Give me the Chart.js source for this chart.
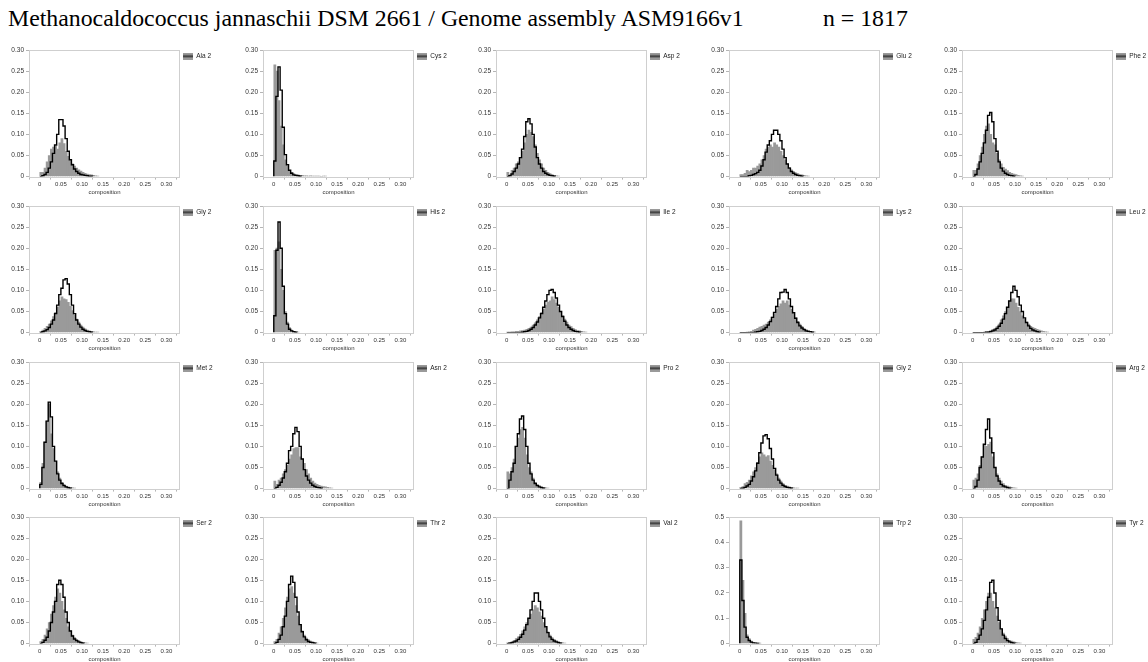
<!DOCTYPE html>
<html><head><meta charset="utf-8">
<script src="https://cdn.jsdelivr.net/npm/chart.js@4/dist/chart.umd.min.js"></script>
<style>
html,body{margin:0;padding:0;background:#fff;width:1148px;height:662px;overflow:hidden;position:relative;}
.ttl{position:absolute;top:6px;font-family:"Liberation Serif","Times New Roman",serif;font-size:23.8px;line-height:24px;white-space:nowrap;color:#000;}
canvas.cell{position:absolute;}
</style></head><body>
<div class="ttl" style="left:8px">Methanocaldococcus jannaschii DSM 2661 / Genome assembly ASM9166v1</div>
<div class="ttl" style="left:823px">n = 1817</div>
<script>
// ---------- data (bin width 0.005, first bin starts at 0) ----------
const BIN_WIDTH = 0.005;
const panelLabels = ['Ala 2','Cys 2','Asp 2','Glu 2','Phe 2','Gly 2','His 2','Ile 2','Lys 2','Leu 2','Met 2','Asn 2','Pro 2','Gly 2','Arg 2','Ser 2','Thr 2','Val 2','Trp 2','Tyr 2'];
const xTickValues = [0,0.05,0.10,0.15,0.20,0.25,0.30];
const xTickLabels = ['0','0.05','0.10','0.15','0.20','0.25','0.30'];
const yTickValuesStd = [0,0.05,0.10,0.15,0.20,0.25,0.30];
const yTickLabelsStd = ['0','0.05','0.10','0.15','0.20','0.25','0.30'];
const yTickValuesTrp = [0,0.1,0.2,0.3,0.4,0.5];
const yTickLabelsTrp = ['0','0.1','0.2','0.3','0.4','0.5'];

const ala2Hist = [0.01,0.01,0.02,0.035,0.05,0.065,0.07,0.072,0.065,0.08,0.09,0.078,0.06,0.048,0.038,0.03,0.025,0.02,0.016,0.013,0.01,0.008,0.006,0.005,0.004,0.003,0.002,0.001];
const ala2Line = [0,0.002,0.005,0.01,0.02,0.035,0.055,0.075,0.1,0.135,0.135,0.12,0.09,0.06,0.04,0.028,0.018,0.012,0.008,0.005,0.004,0.003,0.002,0.001,0.001];
const cys2Hist = [0.265,0.25,0.18,0.12,0.075,0.04,0.025,0.015,0.01,0.007,0.005,0.004,0.003,0.003,0.002,0.002,0.001,0.002,0.001,0.001,0.001,0.001,0,0.001,0.001];
const cys2Line = [0.037,0.19,0.26,0.205,0.117,0.052,0.028,0.015,0.008,0.004,0.003,0.002,0.001];
const asp2Hist = [0.01,0.005,0.015,0.02,0.03,0.035,0.045,0.06,0.08,0.1,0.11,0.105,0.095,0.075,0.055,0.04,0.03,0.02,0.015,0.01,0.007,0.005,0.003,0.002,0.001];
const asp2Line = [0,0.002,0.006,0.012,0.02,0.03,0.045,0.065,0.095,0.13,0.137,0.125,0.1,0.07,0.045,0.03,0.02,0.012,0.008,0.005,0.003,0.002,0.001];
const glu2Hist = [0.005,0.005,0.008,0.015,0.012,0.015,0.02,0.02,0.025,0.03,0.04,0.05,0.065,0.07,0.075,0.07,0.08,0.075,0.07,0.06,0.05,0.04,0.03,0.022,0.016,0.012,0.009,0.007,0.005,0.004,0.003,0.002,0.001];
const glu2Line = [0,0,0,0,0.002,0.003,0.005,0.007,0.01,0.015,0.025,0.04,0.058,0.075,0.085,0.1,0.11,0.11,0.1,0.085,0.065,0.045,0.03,0.02,0.012,0.008,0.005,0.003,0.002,0.001];
const phe2Hist = [0.015,0.015,0.03,0.05,0.07,0.1,0.12,0.125,0.1,0.08,0.075,0.055,0.04,0.03,0.022,0.018,0.014,0.01,0.008,0.006,0.005,0.003,0.002,0.001];
const phe2Line = [0,0.005,0.018,0.035,0.055,0.08,0.11,0.145,0.152,0.13,0.09,0.06,0.035,0.02,0.013,0.008,0.005,0.003,0.002,0.001];

const gly2Hist = [0.003,0.006,0.01,0.015,0.02,0.028,0.038,0.048,0.06,0.075,0.085,0.08,0.078,0.072,0.062,0.052,0.042,0.032,0.025,0.018,0.013,0.009,0.006,0.004,0.003,0.002,0.001,0.001];
const gly2Line = [0,0.002,0.004,0.007,0.012,0.02,0.03,0.045,0.065,0.09,0.105,0.125,0.128,0.115,0.09,0.065,0.045,0.03,0.02,0.013,0.008,0.005,0.003,0.002,0.001];
const his2Hist = [0.195,0.2,0.215,0.15,0.1,0.05,0.025,0.012,0.006,0.003,0.002,0.001];
const his2Line = [0.04,0.195,0.262,0.2,0.11,0.045,0.02,0.008,0.004,0.002,0.001];
const ile2Hist = [0.001,0.001,0.002,0.002,0.003,0.003,0.004,0.005,0.006,0.008,0.01,0.013,0.018,0.023,0.03,0.038,0.048,0.055,0.065,0.072,0.075,0.085,0.078,0.07,0.06,0.05,0.04,0.032,0.025,0.018,0.014,0.01,0.007,0.005,0.004,0.003,0.002,0.001];
const ile2Line = [0,0,0,0,0,0,0,0.001,0.002,0.003,0.005,0.008,0.012,0.018,0.025,0.035,0.045,0.06,0.075,0.09,0.1,0.102,0.095,0.082,0.065,0.05,0.038,0.027,0.018,0.012,0.008,0.005,0.003,0.002,0.001];
const lys2Hist = [0,0,0,0.001,0.002,0.003,0.006,0.008,0.01,0.013,0.015,0.018,0.02,0.025,0.03,0.037,0.045,0.055,0.062,0.068,0.075,0.07,0.075,0.065,0.055,0.045,0.035,0.027,0.02,0.015,0.01,0.007,0.005,0.003,0.002,0.001];
const lys2Line = [0,0,0,0,0,0,0,0.001,0.002,0.003,0.005,0.008,0.012,0.018,0.026,0.036,0.048,0.062,0.08,0.095,0.096,0.102,0.095,0.08,0.062,0.047,0.034,0.024,0.016,0.011,0.007,0.004,0.003,0.002,0.001];
const leu2Hist = [0,0,0,0,0,0.001,0.002,0.003,0.005,0.008,0.01,0.014,0.02,0.03,0.04,0.05,0.06,0.075,0.08,0.08,0.07,0.06,0.05,0.04,0.032,0.025,0.02,0.015,0.012,0.01,0.008,0.006,0.004,0.003,0.002,0.001];
const leu2Line = [0,0,0,0,0,0,0.001,0.001,0.002,0.004,0.006,0.01,0.015,0.022,0.032,0.045,0.06,0.075,0.095,0.11,0.1,0.085,0.065,0.05,0.035,0.024,0.016,0.01,0.006,0.004,0.002,0.001];

const met2Hist = [0.015,0.06,0.11,0.16,0.2,0.13,0.095,0.065,0.04,0.025,0.015,0.01,0.006,0.004,0.003,0.002,0.001];
const met2Line = [0.01,0.05,0.11,0.16,0.205,0.17,0.1,0.065,0.035,0.02,0.012,0.007,0.004,0.002,0.001];
const asn2Hist = [0.018,0.01,0.02,0.025,0.035,0.045,0.055,0.07,0.08,0.095,0.097,0.097,0.075,0.07,0.06,0.045,0.035,0.025,0.018,0.013,0.01,0.008,0.006,0.005,0.004,0.003,0.002,0.001];
const asn2Line = [0,0.003,0.008,0.015,0.025,0.04,0.06,0.09,0.1,0.13,0.145,0.135,0.1,0.07,0.045,0.03,0.02,0.013,0.008,0.005,0.003,0.002,0.001];
const pro2Hist = [0.04,0.035,0.05,0.07,0.1,0.12,0.14,0.145,0.12,0.08,0.05,0.04,0.025,0.015,0.01,0.007,0.005,0.003,0.002,0.001];
const pro2Line = [0,0.02,0.04,0.06,0.1,0.13,0.165,0.172,0.14,0.1,0.06,0.035,0.02,0.012,0.007,0.004,0.002,0.001];
const gly2bHist = [0.003,0.005,0.012,0.015,0.02,0.03,0.04,0.05,0.062,0.075,0.085,0.08,0.075,0.078,0.065,0.055,0.045,0.035,0.025,0.018,0.012,0.008,0.006,0.004,0.003,0.002,0.001,0.001];
const gly2bLine = [0,0.001,0.003,0.006,0.01,0.018,0.028,0.042,0.06,0.085,0.108,0.125,0.128,0.118,0.095,0.07,0.048,0.032,0.02,0.013,0.008,0.005,0.003,0.002,0.001];
const arg2Hist = [0.02,0.025,0.035,0.055,0.075,0.105,0.1,0.105,0.11,0.075,0.05,0.035,0.025,0.018,0.012,0.008,0.006,0.004,0.003,0.002,0.001];
const arg2Line = [0,0.005,0.02,0.05,0.075,0.105,0.14,0.165,0.12,0.085,0.05,0.03,0.018,0.01,0.006,0.004,0.002,0.001];

const ser2Hist = [0.005,0.01,0.02,0.035,0.05,0.07,0.09,0.11,0.13,0.12,0.1,0.08,0.06,0.04,0.03,0.02,0.014,0.01,0.007,0.005,0.003,0.002,0.001];
const ser2Line = [0,0.003,0.008,0.015,0.03,0.05,0.075,0.1,0.14,0.15,0.14,0.11,0.075,0.05,0.03,0.018,0.011,0.007,0.004,0.002,0.001];
const thr2Hist = [0.005,0.01,0.025,0.04,0.06,0.085,0.11,0.13,0.135,0.12,0.09,0.065,0.045,0.03,0.02,0.013,0.009,0.006,0.004,0.002,0.001];
const thr2Line = [0,0.003,0.01,0.02,0.04,0.065,0.1,0.14,0.16,0.145,0.11,0.075,0.045,0.028,0.016,0.009,0.005,0.003,0.002,0.001];
const val2Hist = [0.002,0.003,0.005,0.008,0.012,0.016,0.022,0.03,0.04,0.05,0.06,0.07,0.08,0.09,0.085,0.075,0.065,0.05,0.038,0.028,0.02,0.014,0.01,0.007,0.005,0.003,0.002,0.001];
const val2Line = [0,0.001,0.002,0.004,0.006,0.01,0.015,0.022,0.032,0.045,0.06,0.08,0.1,0.12,0.12,0.1,0.08,0.06,0.04,0.026,0.016,0.01,0.006,0.004,0.002,0.001];
const trp2Hist = [0.485,0.25,0.12,0.035,0.02,0.01,0.005,0.003,0.002,0.001];
const trp2Line = [0.33,0.17,0.065,0.025,0.012,0.006,0.003,0.002,0.001];
const tyr2Hist = [0.01,0.015,0.025,0.04,0.06,0.08,0.1,0.12,0.12,0.1,0.085,0.065,0.05,0.035,0.025,0.018,0.012,0.008,0.006,0.004,0.003,0.002,0.001];
const tyr2Line = [0,0.003,0.01,0.02,0.035,0.055,0.08,0.11,0.145,0.15,0.12,0.085,0.055,0.035,0.02,0.012,0.007,0.004,0.002,0.001];

const histSeries = [ala2Hist,cys2Hist,asp2Hist,glu2Hist,phe2Hist,gly2Hist,his2Hist,ile2Hist,lys2Hist,leu2Hist,met2Hist,asn2Hist,pro2Hist,gly2bHist,arg2Hist,ser2Hist,thr2Hist,val2Hist,trp2Hist,tyr2Hist];
const lineSeries = [ala2Line,cys2Line,asp2Line,glu2Line,phe2Line,gly2Line,his2Line,ile2Line,lys2Line,leu2Line,met2Line,asn2Line,pro2Line,gly2bLine,arg2Line,ser2Line,thr2Line,val2Line,trp2Line,tyr2Line];

// ---------- layout / style ----------
const X_MAX = 0.3067;
const COL_LEFT = [0, 234, 467, 700, 933];
const ROW_TOP = [44, 200, 356, 511];
const CW = 233, CH = 153, LEGEND_W = 53;
const SANS = '"Liberation Sans", Arial, Helvetica, sans-serif';
const GRAY = '#9a9a9a';

const icon = document.createElement('canvas');
icon.width = 10; icon.height = 7;
(function(){ const c = icon.getContext('2d'); c.fillStyle = GRAY; c.fillRect(0,0,10,7); c.fillStyle = '#3a3a3a'; c.fillRect(0,2.5,10,2); })();

const fixLegend = { id:'fixLegend', beforeLayout(chart){ const lg = chart.legend; if (lg && !lg._fixedW){ const f = lg.fit; lg.fit = function(){ f.call(this); this.width = LEGEND_W; }; lg._fixedW = true; } } };
const frame = { id:'frame', beforeDatasetsDraw(chart){ const {ctx, chartArea:a} = chart; ctx.save(); ctx.strokeStyle = '#cfcfcf'; ctx.lineWidth = 1; ctx.strokeRect(Math.round(a.left)+0.5, Math.round(a.top)+0.5, Math.round(a.right - a.left)-1, Math.round(a.bottom - a.top)); ctx.restore(); } };

panelLabels.forEach((label, i) => {
  const col = i % 5, row = Math.floor(i / 5);
  const cv = document.createElement('canvas');
  cv.className = 'cell'; cv.width = CW; cv.height = CH;
  cv.style.left = COL_LEFT[col] + 'px'; cv.style.top = ROW_TOP[row] + 'px';
  document.body.appendChild(cv);
  const isTrp = label === 'Trp 2';
  const yVals = isTrp ? yTickValuesTrp : yTickValuesStd;
  const yLabs = isTrp ? yTickLabelsTrp : yTickLabelsStd;
  const hist = histSeries[i], line = lineSeries[i];
  const histData = hist.map((v, k) => ({x: (k + 0.5) * BIN_WIDTH, y: v}));
  const lineData = [{x: 0, y: 0}].concat(line.map((v, k) => ({x: k * BIN_WIDTH, y: v})), [{x: line.length * BIN_WIDTH, y: 0}]);
  new Chart(cv, {
    data: { datasets: [
      { type:'line', label: label, data: lineData, stepped: true, borderColor:'#000', borderWidth:1.4, pointRadius:0, fill:false, order:0 },
      { type:'bar', label: label, data: histData, backgroundColor: GRAY, borderWidth:0, barPercentage:1, categoryPercentage:1, grouped:false, order:1 }
    ]},
    options: {
      responsive:false, animation:false, devicePixelRatio:1, events:[],
      layout:{ padding:{ top:6, left:3, right:0, bottom:0 } },
      plugins:{
        tooltip:{ enabled:false },
        legend:{ position:'right', align:'start',
          labels:{ usePointStyle:true, pointStyleWidth:10, padding:3, color:'#222', font:{ size:6.5, family:SANS },
            generateLabels: () => [{ text: label, pointStyle: icon, fillStyle: GRAY, strokeStyle:'#3a3a3a', lineWidth:0, hidden:false, datasetIndex:1, fontColor:'#222' }] } }
      },
      scales:{
        x:{ type:'linear', min:0, max:X_MAX,
          afterBuildTicks: s => { s.ticks = xTickValues.map(v => ({value:v})); },
          ticks:{ callback:(v, k) => xTickLabels[k], font:{ size:6, family:SANS }, color:'#333', padding:1, maxRotation:0, autoSkip:false },
          grid:{ display:true, drawOnChartArea:false, drawTicks:true, tickLength:3, color:'#b5b5b5' },
          border:{ display:false },
          title:{ display:true, text:'composition', font:{ size:6, family:SANS }, color:'#333', padding:{ top:0, bottom:1 } } },
        y:{ type:'linear', min:0, max: yVals[yVals.length - 1],
          afterBuildTicks: s => { s.ticks = yVals.map(v => ({value:v})); },
          afterFit: s => { s.width = 26; },
          ticks:{ callback:(v, k) => yLabs[k], font:{ size:6.5, family:SANS }, color:'#333', padding:2, autoSkip:false },
          grid:{ display:true, drawOnChartArea:false, drawTicks:true, tickLength:3, color:'#b5b5b5' },
          border:{ display:false } }
      }
    },
    plugins:[fixLegend, frame]
  });
});
</script>
</body></html>
